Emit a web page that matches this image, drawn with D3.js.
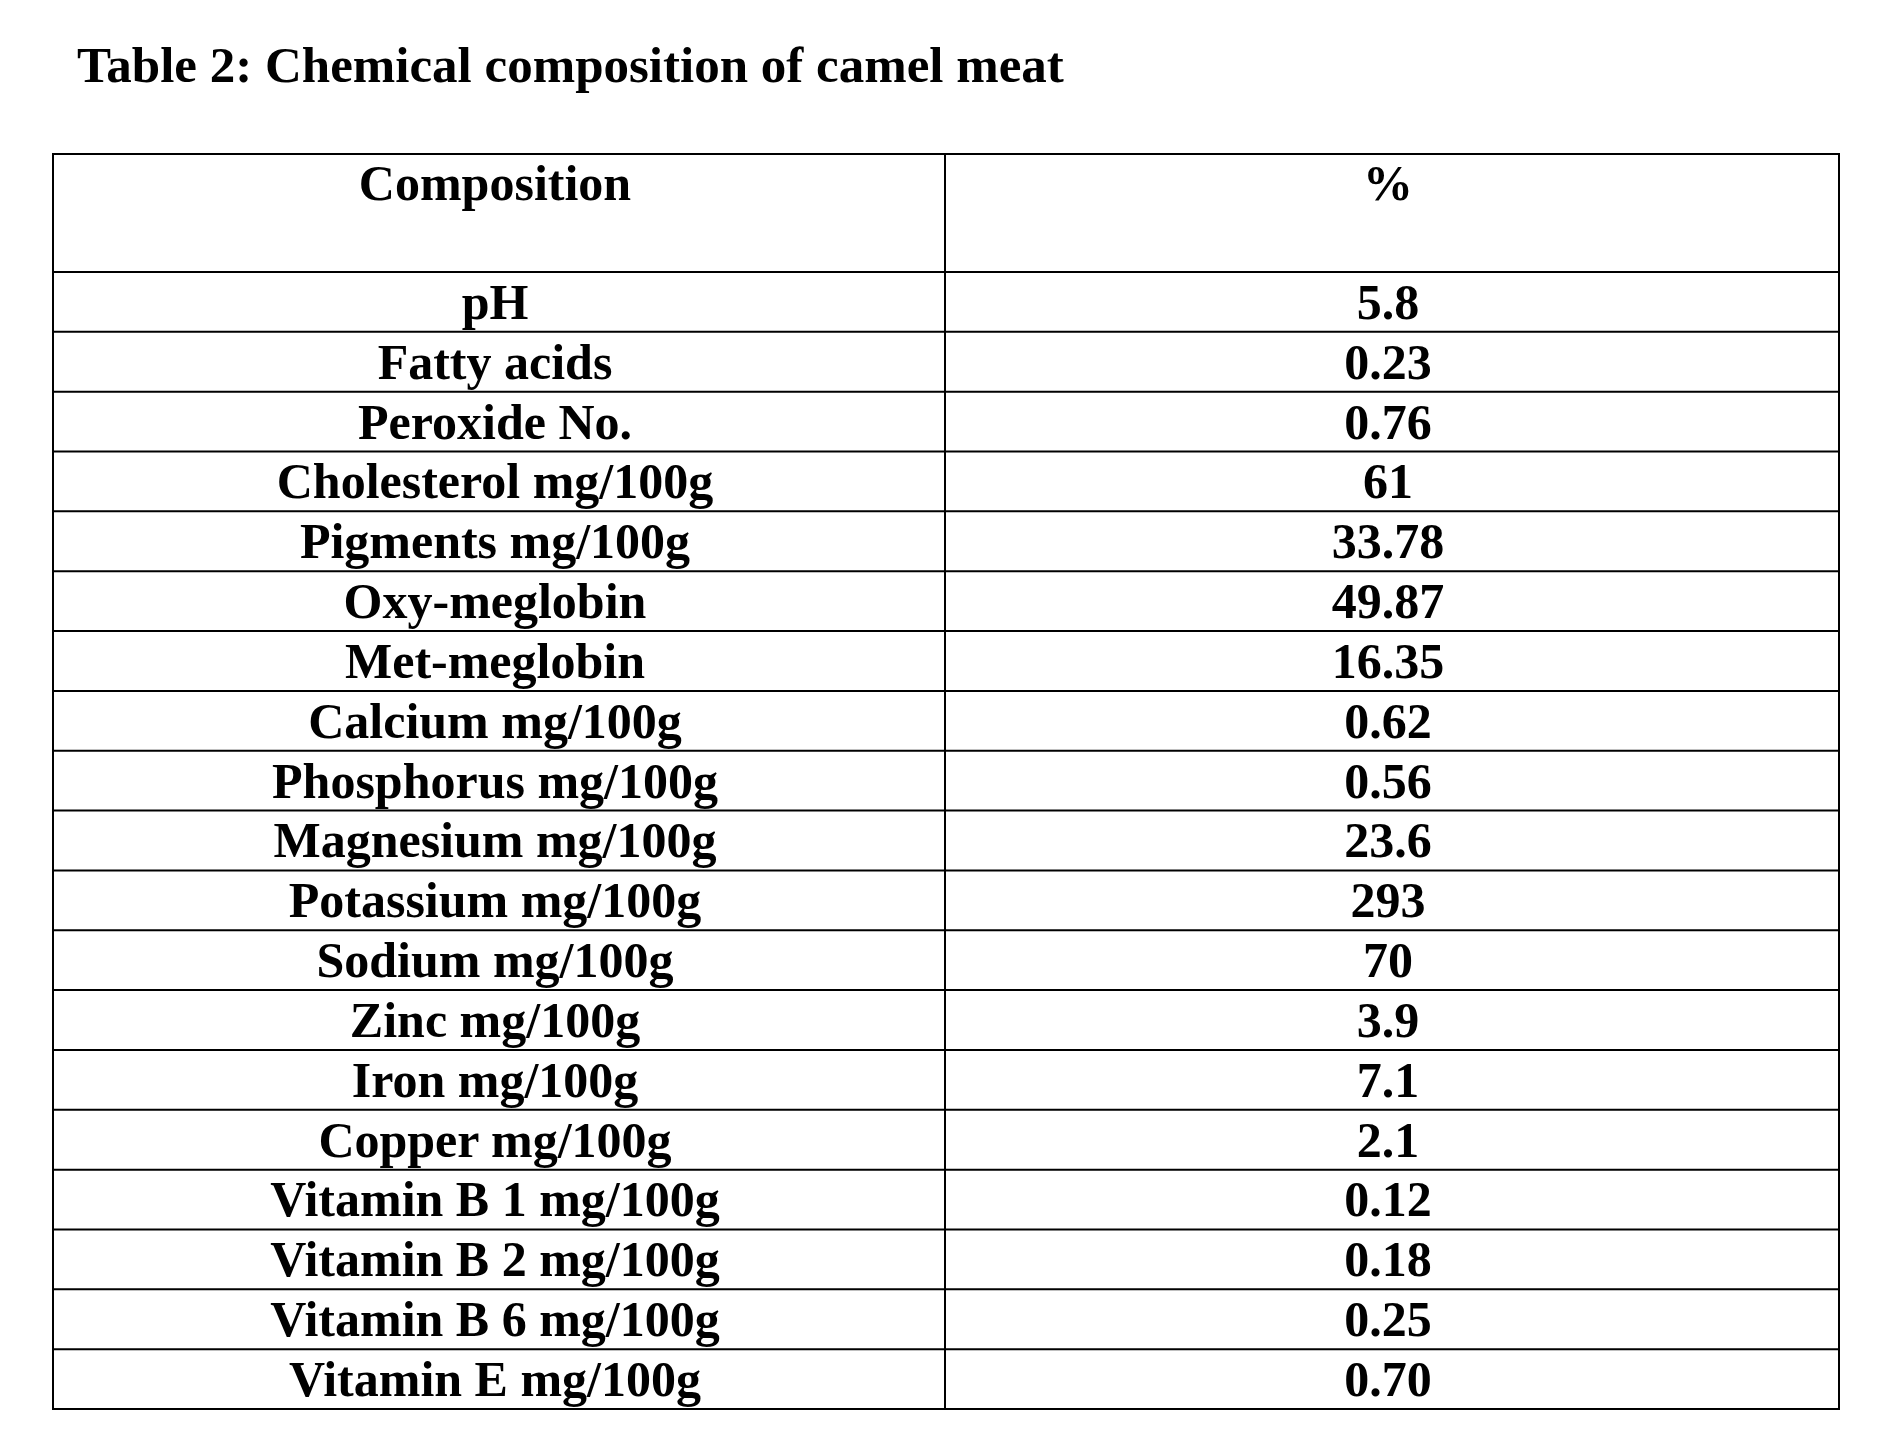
<!DOCTYPE html>
<html><head><meta charset="utf-8">
<script src="https://cdn.jsdelivr.net/npm/d3@7"></script>
<style>body{margin:0;background:#fff}</style>
</head><body><div id="chart"></div>
<script>
var components = ["pH","Fatty acids","Peroxide No.","Cholesterol mg/100g","Pigments mg/100g","Oxy-meglobin","Met-meglobin","Calcium mg/100g","Phosphorus mg/100g","Magnesium mg/100g","Potassium mg/100g","Sodium mg/100g","Zinc mg/100g","Iron mg/100g","Copper mg/100g","Vitamin B 1 mg/100g","Vitamin B 2 mg/100g","Vitamin B 6 mg/100g","Vitamin E mg/100g"]
var values = ["5.8","0.23","0.76","61","33.78","49.87","16.35","0.62","0.56","23.6","293","70","3.9","7.1","2.1","0.12","0.18","0.25","0.70"]
var headers = ["Composition","%"]

var W = 1879, H = 1454
var tLeft = 53, tRight = 1839, tMid = 945, tTop = 154, headBottom = 272, tBottom = 1409
var font = "'Liberation Serif','Times New Roman',serif"

var svg = d3.select('#chart').append('svg').attr('width', W).attr('height', H)

svg.append('text').attr('x', 77).attr('y', 82)
    .style('font-family', font).style('font-weight', 'bold').style('font-size', '51px')
    .text('Table 2: Chemical composition of camel meat')

var y = d3.scaleBand().domain(d3.range(components.length)).range([headBottom, tBottom])
var cols = [(tLeft + tMid) / 2, (tMid + tRight) / 2]

var g = svg.append('g').attr('stroke', '#000').attr('stroke-width', 2)
g.append('rect').attr('x', tLeft).attr('y', tTop).attr('width', tRight - tLeft).attr('height', tBottom - tTop).attr('fill', 'none')
g.append('line').attr('x1', tMid).attr('x2', tMid).attr('y1', tTop).attr('y2', tBottom)
g.selectAll('.row').data(d3.range(components.length)).enter().append('line')
    .attr('x1', tLeft).attr('x2', tRight)
    .attr('y1', function (d) { return y(d) }).attr('y2', function (d) { return y(d) })

var txt = svg.append('g').style('font-family', font).style('font-weight', 'bold')
    .style('font-size', '50px').attr('text-anchor', 'middle')
headers.forEach(function (h, i) {
    txt.append('text').attr('x', cols[i] - 4).attr('y', 200).text(h)
})
components.forEach(function (c, i) {
    var yy = y(i) + y.bandwidth() - 13
    txt.append('text').attr('x', cols[0] - 4).attr('y', yy).text(c)
    txt.append('text').attr('x', cols[1] - 4).attr('y', yy).text(values[i])
})
</script></body></html>
